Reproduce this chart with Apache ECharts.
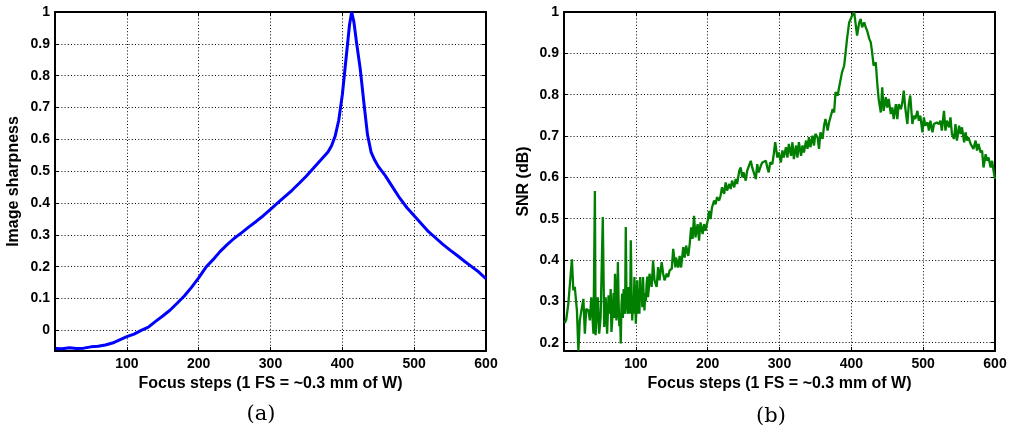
<!DOCTYPE html>
<html>
<head>
<meta charset="utf-8">
<script src="https://cdn.jsdelivr.net/npm/echarts@6/dist/echarts.min.js"></script>
<style>
html,body{margin:0;padding:0;background:#fff;}
#chart{width:1010px;height:435px;}
</style>
</head>
<body>
<div id="chart"></div>
<script>
// ---- Panel (a): image sharpness ----
const xA = [1,10,20,30,40,50,60,70,80,90,100,110,120,130,140,150,160,170,180,190,200,210,220,230,240,250,260,270,280,290,300,310,320,330,340,350,360,370,380,385,390,395,400,405,410,413,416,420,425,430,435,440,445,450,460,470,480,490,500,510,520,530,540,550,560,570,580,590,600];
const yA = [-0.057,-0.058,-0.055,-0.057,-0.056,-0.052,-0.050,-0.046,-0.040,-0.030,-0.020,-0.012,0.000,0.010,0.028,0.045,0.063,0.085,0.108,0.135,0.165,0.198,0.222,0.248,0.270,0.290,0.307,0.325,0.342,0.360,0.380,0.400,0.420,0.440,0.462,0.485,0.510,0.535,0.560,0.580,0.610,0.660,0.740,0.850,0.960,1.000,0.970,0.900,0.820,0.715,0.615,0.560,0.535,0.515,0.485,0.450,0.415,0.385,0.360,0.335,0.310,0.290,0.270,0.252,0.235,0.217,0.200,0.183,0.162];

// ---- Panel (b): SNR ----
const xB = [1,3,6,11,13,15,18,20,22,25,27,29,31,34,36,38,41,43,44,47,49,51,54,56,58,60,62,63,64,65,66,67,68,69,70,71,72,73,74,75,76,77,78,79,80,81,82,83,84,85,86,87,88,89,90,91,92,93,94,95,96,97,98,99,100,101,102,103,104,105,106,107,108,109,110,111,112,113,114,115,116,117,118,119,122,124,126,129,131,133,136,138,140,143,145,147,150,
152,155,156,159,161,163,166,168,170,173,175,177,179,181,183,186,188,190,193,195,197,200,202,204,206,209,211,213,216,218,220,223,225,227,230,232,234,237,239,241,244,246,248,250,253,255,257,260,262,264,267,269,271,274,276,278,281,283,285,287,290,292,294,297,
299,302,304,306,309,311,313,316,318,320,323,325,327,330,332,334,337,339,341,343,346,348,350,353,355,357,360,362,364,367,369,371,374,376,378,381,383,385,387,390,392,394,397,399,401,404,406,408,411,413,415,418,420,422,425,427,429,431,434,436,438,441,
443,445,448,450,452,455,457,459,462,464,466,469,471,473,475,478,480,482,485,487,489,492,494,496,499,501,503,506,508,510,513,515,517,519,522,524,526,529,531,533,536,538,540,543,545,547,550,552,554,557,559,561,563,566,568,570,573,575,577,580,582,584,587,589,591,594,596,598,600];
const yB = [0.248,0.255,0.294,0.402,0.327,0.335,0.278,0.181,0.254,0.286,0.306,0.222,0.282,0.278,0.254,0.310,0.222,0.567,0.218,0.310,0.222,0.262,0.504,0.238,0.310,0.222,0.315,0.300,0.270,0.330,0.226,0.250,0.286,0.320,0.260,0.367,0.330,0.254,0.280,0.395,0.300,0.240,0.270,0.198,0.290,0.319,0.260,0.330,0.294,0.270,0.480,0.310,0.286,0.270,0.335,0.300,0.270,0.448,0.330,0.254,0.300,0.270,0.359,0.320,0.246,0.290,0.351,0.270,0.330,0.270,0.359,0.310,0.330,0.286,0.359,0.310,0.278,0.320,0.300,0.343,0.360,0.310,0.330,0.367,0.335,0.399,0.351,0.335,0.383,0.351,0.395,0.367,0.351,0.367,0.359,0.375,0.379,
0.427,0.382,0.406,0.382,0.410,0.382,0.431,0.406,0.435,0.410,0.439,0.479,0.451,0.507,0.455,0.487,0.447,0.491,0.463,0.487,0.471,0.495,0.519,0.499,0.527,0.544,0.535,0.552,0.544,0.556,0.576,0.560,0.588,0.568,0.584,0.572,0.592,0.576,0.596,0.584,0.616,0.624,0.600,0.612,0.592,0.616,0.612,0.640,0.624,0.628,0.596,0.632,0.612,0.628,0.636,0.632,0.640,0.624,0.612,0.636,0.632,0.656,0.685,0.648,
0.660,0.636,0.665,0.648,0.673,0.648,0.681,0.652,0.685,0.644,0.677,0.648,0.685,0.652,0.677,0.660,0.689,0.669,0.697,0.673,0.701,0.677,0.705,0.697,0.669,0.709,0.693,0.725,0.741,0.713,0.733,0.737,0.765,0.757,0.806,0.798,0.818,0.814,0.854,0.870,0.902,0.935,0.975,0.971,0.991,0.999,0.971,0.943,0.975,0.983,0.963,0.975,0.963,0.955,0.935,0.927,0.902,0.870,0.878,0.830,0.790,0.757,
0.818,0.761,0.794,0.769,0.790,0.753,0.769,0.741,0.777,0.741,0.777,0.765,0.781,0.810,0.769,0.729,0.777,0.798,0.729,0.749,0.741,0.761,0.737,0.749,0.709,0.745,0.725,0.733,0.713,0.737,0.709,0.729,0.725,0.733,0.729,0.737,0.713,0.761,0.713,0.737,0.721,0.745,0.705,0.693,0.729,0.689,0.725,0.705,0.721,0.685,0.709,0.689,0.697,0.681,0.685,0.669,0.689,0.665,0.681,0.660,0.665,0.624,0.656,0.640,0.648,0.624,0.640,0.616,0.596];

const xTickLabels = [100,200,300,400,500,600];
const xRange = [0, 600];
const yRangeA = [-0.065, 1];
const yRangeB = [0.18, 1];
const yNameA = 'Image sharpness';
const yNameB = 'SNR (dB)';
const xName = 'Focus steps (1 FS = ~0.3 mm of W)';
const captions = ['(a)', '(b)'];

const chart = echarts.init(document.getElementById('chart'), null, {renderer: 'canvas'});
const font = 'Liberation Sans, Arial, Helvetica, sans-serif';
const serif = 'DejaVu Serif, Liberation Serif, serif';
const axisLineStyle = {show: true, onZero: false, lineStyle: {color: '#000', width: 2}};
const tickStyle = {show: true, inside: true, length: 4, lineStyle: {color: '#000', width: 1}};
const labelStyle = {color: '#000', fontFamily: font, fontWeight: 'bold', fontSize: 14};
const nameStyle = {color: '#000', fontFamily: font, fontWeight: 'bold', fontSize: 16};
const gridLine = {show: true, lineStyle: {color: '#000', width: 1, type: [1, 2.2]}};

function xAxes(g) {
  return [{
    type: 'value', gridIndex: g, position: 'bottom', min: xRange[0], max: xRange[1], interval: 100,
    axisLine: axisLineStyle, axisTick: tickStyle,
    axisLabel: Object.assign({margin: 6, showMinLabel: false,
      formatter: v => (xTickLabels.indexOf(v) >= 0 ? String(v) : '')}, labelStyle),
    splitLine: gridLine,
    name: xName, nameLocation: 'middle', nameGap: 21, nameTextStyle: nameStyle
  }, {
    type: 'value', gridIndex: g, position: 'top', min: xRange[0], max: xRange[1], interval: 100,
    axisLine: axisLineStyle, axisTick: tickStyle, axisLabel: {show: false}, splitLine: {show: false}
  }];
}
function yAxes(g, range, name, gap) {
  return [{
    type: 'value', gridIndex: g, position: 'left', min: range[0], max: range[1], splitNumber: 10,
    axisLine: axisLineStyle, axisTick: tickStyle,
    axisLabel: Object.assign({margin: 5, showMinLabel: false}, labelStyle),
    splitLine: gridLine,
    name: name, nameLocation: 'middle', nameGap: gap, nameRotate: 90, nameTextStyle: nameStyle
  }, {
    type: 'value', gridIndex: g, position: 'right', min: range[0], max: range[1], splitNumber: 10,
    axisLine: axisLineStyle, axisTick: tickStyle, axisLabel: {show: false}, splitLine: {show: false}
  }];
}

const option = {
  animation: false,
  backgroundColor: '#fff',
  grid: [
    {left: 55, top: 12, width: 431, height: 339},
    {left: 564, top: 12, width: 431, height: 339}
  ],
  xAxis: [].concat(xAxes(0), xAxes(1)),
  yAxis: [].concat(yAxes(0, yRangeA, yNameA, 33), yAxes(1, yRangeB, yNameB, 32)),
  title: [
    {text: captions[0], left: 256, top: 399, textAlign: 'center',
     textStyle: {fontFamily: serif, fontWeight: 'normal', fontSize: 21, color: '#000'}},
    {text: captions[1], left: 766, top: 401, textAlign: 'center',
     textStyle: {fontFamily: serif, fontWeight: 'normal', fontSize: 21, color: '#000'}}
  ],
  series: [
    {type: 'line', xAxisIndex: 0, yAxisIndex: 0, showSymbol: false, silent: true,
     lineStyle: {color: '#0000ff', width: 3}, data: xA.map((x, i) => [x, yA[i]])},
    {type: 'line', xAxisIndex: 2, yAxisIndex: 2, showSymbol: false, silent: true,
     lineStyle: {color: '#007f00', width: 2.3}, data: xB.map((x, i) => [x, yB[i]])}
  ]
};
chart.setOption(option);
</script>
</body>
</html>
